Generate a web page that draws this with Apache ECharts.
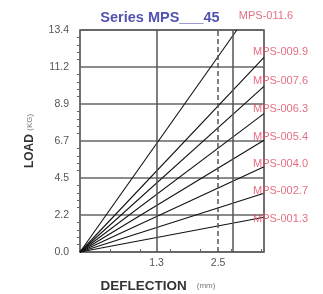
<!DOCTYPE html>
<html><head><meta charset="utf-8">
<script src="https://cdn.jsdelivr.net/npm/echarts@6/dist/echarts.min.js"></script>
<style>html,body{margin:0;padding:0;background:#fff}#c{width:323px;height:294px}</style>
</head><body><div id="c"></div>
<script>
var seriesNames = ['MPS-011.6','MPS-009.9','MPS-007.6','MPS-006.3','MPS-005.4','MPS-004.0','MPS-002.7','MPS-001.3'];
var endDeflection = [2.60, 3.05, 3.05, 3.05, 3.05, 3.05, 3.05, 3.05];
var endLoad = [13.4, 11.75, 10.0, 8.35, 6.75, 5.15, 3.55, 2.1];
var yTickValues = [0, 2.2333, 4.4667, 6.7, 8.9333, 11.1667, 13.4];
var yTickLabels = ['0.0','2.2','4.5','6.7','8.9','11.2','13.4'];
var xTickValues = [1.27, 2.29];
var xTickLabels = ['1.3','2.5'];
var xGridSolid = [1.27, 2.54];
var xGridDashed = [2.29];
var xMax = 3.05, yMax = 13.4;
var leftFragments = ['MPS-005.6','MPS-003.5','MPS-002.4'];
var leftFragmentY = [123, 168, 197];
var labelOffsets = [[-6,-14],[-19,-5],[-19,-5],[-19,-5],[-19,-3],[-19,-3],[-19,-2],[-19,2]];

var labelColor = '#e04a62';
var series = seriesNames.map(function(n, i){
  return {
    type: 'line', name: n, silent: true, symbol: 'none', clip: false,
    lineStyle: {color: '#111', width: 1.1},
    data: [[0,0],[endDeflection[i], endLoad[i]]],
    endLabel: {
      show: true, formatter: n, color: labelColor, fontSize: 11,
      fontFamily: 'Liberation Sans', opacity: 0.8,
      offset: labelOffsets[i]
    }
  };
});
series.push({
  type: 'line', silent: true, data: [], symbol: 'none',
  markLine: {
    silent: true, symbol: 'none', label: {show: false},
    data: xGridSolid.map(function(v){return {xAxis: v, lineStyle:{color:'#555', width:1.5, type:'solid'}};})
      .concat(xGridDashed.map(function(v){return {xAxis: v, lineStyle:{color:'#555', width:1.5, type:[5,3]}};}))
  }
});

var chart = echarts.init(document.getElementById('c'));
chart.setOption({
  animation: false,
  title: {
    text: 'Series MPS___45', left: 155, top: 5, textAlign: 'center',
    textStyle: {color: '#5252b0', fontSize: 14.5, fontWeight: 'bold', fontFamily: 'Liberation Sans'}
  },
  grid: {left: 80, right: 59, top: 30, bottom: 42, show: true, borderColor: '#444', borderWidth: 1.5,
    containLabel: false, outerBoundsMode: 'none'},
  xAxis: {
    type: 'value', min: 0, max: xMax,
    axisLine: {show: false}, splitLine: {show: false},
    axisTick: {show: true, inside: true, length: 3, lineStyle: {color: '#666'}},
    minorTick: {show: false},
    axisLabel: {
      customValues: xTickValues, color: '#555', fontSize: 10.5, margin: 6,
      fontFamily: 'Liberation Sans',
      formatter: function(v){ var k = xTickValues.indexOf(v); return k >= 0 ? xTickLabels[k] : ''; }
    },
    name: '{b|DEFLECTION}   {s|(mm)}', nameLocation: 'middle', nameGap: 27,
    nameTextStyle: {
      padding: [0, 28, 0, 0],
      rich: {
        b: {fontSize: 13.5, fontWeight: 'bold', color: '#333', fontFamily: 'Liberation Sans'},
        s: {fontSize: 8, color: '#777', fontFamily: 'Liberation Sans'}
      }
    }
  },
  yAxis: {
    type: 'value', min: 0, max: yMax, interval: yMax / 6,
    axisLine: {show: false},
    splitLine: {show: true, lineStyle: {color: '#666', width: 1.5}},
    axisTick: {show: false},
    minorTick: {show: true, splitNumber: 5, length: 3, lineStyle: {color: '#666'}},
    axisLabel: {
      color: '#555', fontSize: 10.5, margin: 11, fontFamily: 'Liberation Sans',
      formatter: function(v){
        var best = 0;
        for (var k = 0; k < yTickValues.length; k++) if (Math.abs(yTickValues[k]-v) < Math.abs(yTickValues[best]-v)) best = k;
        return yTickLabels[best];
      }
    },
    name: '{b|LOAD} {s|(KG)}', nameLocation: 'middle', nameGap: 44, nameRotate: 90,
    nameTextStyle: {
      rich: {
        b: {fontSize: 12, fontWeight: 'bold', color: '#333', fontFamily: 'Liberation Sans'},
        s: {fontSize: 8, color: '#777', fontFamily: 'Liberation Sans'}
      }
    }
  },
  graphic: leftFragments.map(function(t, i){
    return {type: 'text', left: -50, top: leftFragmentY[i] - 6, silent: true,
      style: {text: t, fill: labelColor, opacity: 0.6, font: '10px Liberation Sans'}};
  }),
  series: series
});
</script></body></html>
